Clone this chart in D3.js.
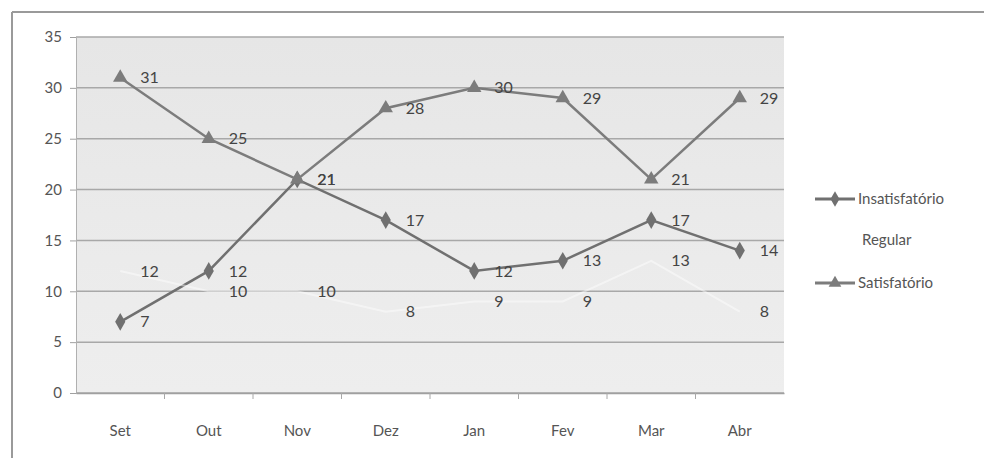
<!DOCTYPE html>
<html>
<head>
<meta charset="utf-8">
<script src="https://cdn.jsdelivr.net/npm/d3@7"></script>
<style>
  body { margin: 0; background: #fff; }
  text { font-family: Lato, "Open Sans", sans-serif; }
</style>
</head>
<body>
<div id="chart"></div>
<script>
// chart values
const months = ["Set", "Out", "Nov", "Dez", "Jan", "Fev", "Mar", "Abr"];
const insatisfatorio = [7, 12, 21, 17, 12, 13, 17, 14];
const regular = [12, 10, 10, 8, 9, 9, 13, 8];
const satisfatorio = [31, 25, 21, 28, 30, 29, 21, 29];
const yTicks = [0, 5, 10, 15, 20, 25, 30, 35];

const W = 986, H = 458;
const svg = d3.select("#chart").append("svg").attr("width", W).attr("height", H);

// outer frame
svg.append("line").attr("x1", 12).attr("y1", 12).attr("x2", 984).attr("y2", 12)
  .attr("stroke", "#9a9a9a").attr("stroke-width", 2);
svg.append("line").attr("x1", 12).attr("y1", 12).attr("x2", 12).attr("y2", H)
  .attr("stroke", "#9a9a9a").attr("stroke-width", 2);

const plot = { left: 76, right: 784, top: 37, bottom: 393 };

const x = d3.scaleBand().domain(months).range([plot.left, plot.right]);
const y = d3.scaleLinear().domain([0, 35]).range([plot.bottom, plot.top]);

// plot background
const grad = svg.append("defs").append("linearGradient").attr("id", "bg")
  .attr("x1", 0).attr("x2", 0).attr("y1", 0).attr("y2", 1);
grad.append("stop").attr("offset", "0%").attr("stop-color", "#e6e6e6");
grad.append("stop").attr("offset", "100%").attr("stop-color", "#eeeeee");
svg.append("rect").attr("x", plot.left).attr("y", plot.top)
  .attr("width", plot.right - plot.left).attr("height", plot.bottom - plot.top)
  .attr("fill", "url(#bg)");

// gridlines
svg.append("g").selectAll("line").data(yTicks).join("line")
  .attr("x1", plot.left).attr("x2", plot.right)
  .attr("y1", d => y(d)).attr("y2", d => y(d))
  .attr("stroke", "#a8a8a8").attr("stroke-width", 1.5);

// y axis
const yAxis = svg.append("g").attr("transform", `translate(${plot.left},0)`)
  .call(d3.axisLeft(y).tickValues(yTicks).tickSize(6).tickPadding(8));
yAxis.select(".domain").attr("stroke", "#b0b0b0");
yAxis.selectAll(".tick line").attr("stroke", "#a0a0a0");
yAxis.selectAll("text").attr("font-size", 15).attr("fill", "#555");

// x axis
const xAxis = svg.append("g").attr("transform", `translate(0,${plot.bottom})`)
  .call(d3.axisBottom(x).tickSize(0).tickPadding(32));
xAxis.select(".domain").attr("stroke", "#a0a0a0").attr("stroke-width", 1.5);
xAxis.selectAll("text").attr("font-size", 15).attr("fill", "#555");
svg.append("g").selectAll("line").data(months.slice(1)).join("line")
  .attr("x1", d => x(d)).attr("x2", d => x(d))
  .attr("y1", plot.bottom).attr("y2", plot.bottom + 6)
  .attr("stroke", "#a8a8a8");

const cx = d => x(d) + x.bandwidth() / 2;
const line = d3.line().x(d => cx(d.m)).y(d => y(d.v));

const series = [
  { name: "Insatisfatório", values: insatisfatorio, color: "#707070", shape: d3.symbolDiamond, width: 2.5, opacity: 1 },
  { name: "Regular", values: regular, color: "#ffffff", shape: null, width: 2, opacity: 0.45 },
  { name: "Satisfatório", values: satisfatorio, color: "#7c7c7c", shape: d3.symbolTriangle, width: 2.5, opacity: 1 }
];

series.forEach(s => {
  const pts = months.map((m, i) => ({ m, v: s.values[i] }));
  svg.append("path").datum(pts).attr("d", line)
    .attr("fill", "none").attr("stroke", s.color).attr("stroke-width", s.width)
    .attr("stroke-opacity", s.opacity);
  if (s.shape) {
    svg.append("g").selectAll("path").data(pts).join("path")
      .attr("transform", d => `translate(${cx(d.m)},${y(d.v)})`)
      .attr("d", d3.symbol().type(s.shape).size(90))
      .attr("fill", s.color);
  }
  svg.append("g").selectAll("text").data(pts).join("text")
    .attr("x", d => cx(d.m) + 20).attr("y", d => y(d.v))
    .attr("dy", "0.35em").attr("font-size", 16).attr("fill", "#444")
    .text(d => d.v);
});

// legend
const legY = [199, 240, 283];
series.forEach((s, i) => {
  const g = svg.append("g").attr("transform", `translate(815,${legY[i]})`);
  if (s.shape) {
    g.append("line").attr("x1", 0).attr("x2", 40).attr("stroke", s.color).attr("stroke-width", 3);
    g.append("path").attr("transform", "translate(20,0)")
      .attr("d", d3.symbol().type(s.shape).size(70)).attr("fill", s.color);
  }
  g.append("text").attr("x", s.shape ? 43 : 47).attr("dy", "0.35em").attr("font-size", 15)
    .attr("fill", "#555").text(s.name);
});
</script>
</body>
</html>
